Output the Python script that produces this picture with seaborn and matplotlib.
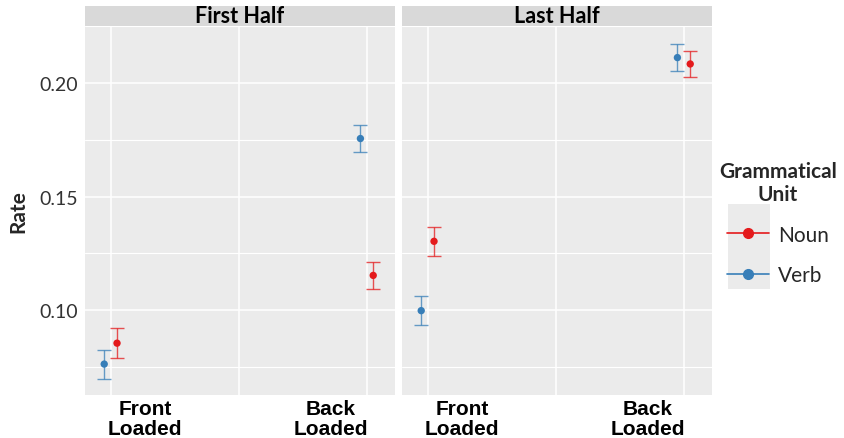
import matplotlib
matplotlib.use("Agg")
import matplotlib.pyplot as plt
from matplotlib.lines import Line2D
from matplotlib.patches import Rectangle
import seaborn as sns
import pandas as pd

# ---- data ----
halves = ["First Half", "Last Half"]
loads = ["Front Loaded", "Back Loaded"]
load_labels = ["Front\nLoaded", "Back\nLoaded"]
units = ["Noun", "Verb"]

noun_rate_first = [0.0855, 0.1153]
verb_rate_first = [0.0763, 0.1755]
noun_rate_last = [0.1303, 0.2083]
verb_rate_last = [0.0998, 0.2111]
noun_se_first = [0.0065, 0.0060]
verb_se_first = [0.0064, 0.0060]
noun_se_last = [0.0064, 0.0059]
verb_se_last = [0.0064, 0.0061]

y_ticks = [0.10, 0.15, 0.20]
y_tick_labels = ["0.10", "0.15", "0.20"]

rows = []
for half, nr, vr, ns, vs in [
    ("First Half", noun_rate_first, verb_rate_first, noun_se_first, verb_se_first),
    ("Last Half", noun_rate_last, verb_rate_last, noun_se_last, verb_se_last),
]:
    for i, load in enumerate(loads):
        rows.append(dict(half=half, load=load, li=i, unit="Noun", rate=nr[i], se=ns[i]))
        rows.append(dict(half=half, load=load, li=i, unit="Verb", rate=vr[i], se=vs[i]))
df = pd.DataFrame(rows)
dodge = {"Noun": 0.025, "Verb": -0.025}
df["xpos"] = df["li"] + df["unit"].map(dodge)

palette = {"Noun": "#E41A1C", "Verb": "#377EB8"}

sns.set_theme(style="darkgrid")
plt.rcParams["font.family"] = ["Lato", "DejaVu Sans"]

W, H = 845, 439
fig = plt.figure(figsize=(W / 100, H / 100), dpi=100)
fig.patch.set_facecolor("white")

panel_bottom = 1 - 396 / H
panel_h = 369 / H
axes = [
    fig.add_axes([85 / W, panel_bottom, 310 / W, panel_h]),
    fig.add_axes([402 / W, panel_bottom, 310 / W, panel_h]),
]

for k, (ax, half) in enumerate(zip(axes, halves)):
    ax.set_facecolor("#EBEBEB")
    sub = df[df["half"] == half]
    for u in units:
        s = sub[sub["unit"] == u]
        ax.errorbar(s["xpos"], s["rate"], yerr=s["se"], fmt="none",
                    ecolor=palette[u], alpha=0.75, elinewidth=1.0,
                    capsize=4.8, capthick=1.0, zorder=3)
    sns.scatterplot(data=sub, x="xpos", y="rate", hue="unit", palette=palette,
                    s=28, edgecolor="none", legend=False, ax=ax, zorder=4)
    ax.set_xlim(-0.1, 1.11)
    ax.set_ylim(0.0627, 0.2242)
    ax.set_xticks([0, 0.5, 1])
    ax.set_xticklabels([])
    ax.set_xticks([0.135, 0.86], minor=True)
    ax.set_xticklabels(load_labels, minor=True, fontsize=15, fontweight="bold",
                       color="black", family=["Liberation Sans", "DejaVu Sans"],
                       linespacing=1.05)
    ax.tick_params(axis="x", which="both", length=0, pad=3)
    ax.set_yticks(y_ticks)
    ax.set_yticks([0.075, 0.125, 0.175, 0.225], minor=True)
    ax.grid(False)
    ax.xaxis.grid(True, which="major", color="white", linewidth=1.1)
    ax.yaxis.grid(True, which="major", color="white", linewidth=1.1)
    ax.yaxis.grid(True, which="minor", color="white", linewidth=0.8)
    ax.set_axisbelow(True)
    for sp in ax.spines.values():
        sp.set_visible(False)
    ax.set_xlabel("")
    if k == 0:
        ax.set_yticklabels(y_tick_labels, fontsize=14, color="#333333")
        ax.tick_params(axis="y", which="major", length=3, width=0.8,
                       color="#888888", pad=2)
        ax.tick_params(axis="y", which="minor", length=0)
        ax.set_ylabel("Rate", fontsize=15, fontweight="bold", labelpad=8)
    else:
        ax.set_yticklabels([])
        ax.tick_params(axis="y", which="both", length=0)
        ax.set_ylabel("")
    # strip
    strip_h = 20 / 369
    ax.add_patch(Rectangle((0, 1), 1, strip_h, transform=ax.transAxes,
                           facecolor="#D9D9D9", edgecolor="none", clip_on=False))
    ax.text(0.5, 1 + strip_h / 2, half, transform=ax.transAxes, ha="center",
            va="center", fontsize=15.5, fontweight="bold", color="black")

# legend key background
fig.add_artist(Rectangle((728 / W, 1 - 290 / H), 42 / W, 85 / H,
                         transform=fig.transFigure, facecolor="#EBEBEB",
                         edgecolor="none", zorder=0))
handles = [Line2D([0], [0], color=palette[u], marker="o", markersize=7,
                  linewidth=1.2) for u in units]
leg = fig.legend(handles, units, title="Grammatical\nUnit", loc="center",
                 bbox_to_anchor=(778 / W, 1 - 224 / H), frameon=False,
                 fontsize=15, title_fontsize=15, handlelength=2.0,
                 labelspacing=1.0, alignment="center", handletextpad=0.45)
leg.get_title().set_fontweight("bold")
leg.get_title().set_multialignment("center")

fig.savefig("out.png", dpi=100)
